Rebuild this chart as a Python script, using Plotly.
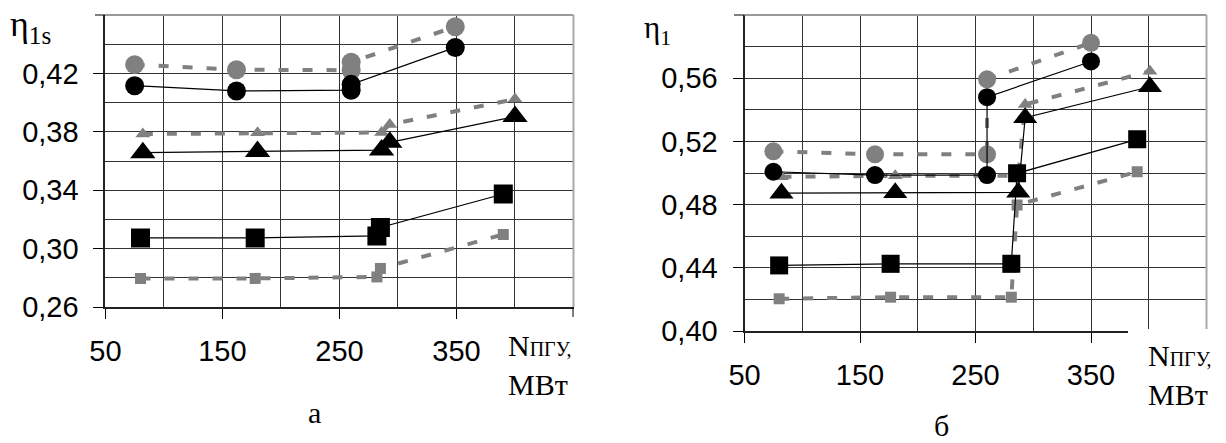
import plotly.graph_objects as go

# ---------------- data: chart "а" (eta_1s) ----------------
a_x_circ = [75, 162, 260, 260, 349]
a_gray_circ = [0.426, 0.4225, 0.4222, 0.4277, 0.452]
a_black_circ = [0.4116, 0.408, 0.4085, 0.4125, 0.4378]
a_x_tri = [82, 180, 286, 293, 400]
a_gray_tri = [0.3785, 0.3793, 0.3795, 0.385, 0.4024]
a_black_tri = [0.3657, 0.3665, 0.3675, 0.3728, 0.3904]
a_x_sq = [80, 178, 282, 285, 390]
a_black_sq = [0.3073, 0.3073, 0.3087, 0.3145, 0.3374]
a_gray_sq = [0.2796, 0.2796, 0.2806, 0.2864, 0.3097]

# ---------------- data: chart "б" (eta_1) ----------------
b_x_circ = [75, 163, 260, 260, 350]
b_gray_circ = [0.5137, 0.5118, 0.5118, 0.5593, 0.5824]
b_black_circ = [0.5008, 0.4987, 0.4987, 0.548, 0.5706]
b_x_tri = [82, 180.5, 287, 293, 401]
b_gray_tri = [0.4976, 0.4982, 0.4982, 0.5434, 0.5644]
b_black_tri = [0.4872, 0.4875, 0.4878, 0.535, 0.5546]
b_x_sq = [80, 176.5, 281, 286, 390]
b_black_sq = [0.4415, 0.4425, 0.4425, 0.4998, 0.5213]
b_gray_sq = [0.4204, 0.4214, 0.4214, 0.4798, 0.5008]

x_tickvals = [50, 150, 250, 350]
x_ticktext = ["50", "150", "250", "350"]
a_y_tickvals = [0.26, 0.30, 0.34, 0.38, 0.42]
a_y_ticktext = ["0,26", "0,30", "0,34", "0,38", "0,42"]
b_y_tickvals = [0.40, 0.44, 0.48, 0.52, 0.56]
b_y_ticktext = ["0,40", "0,44", "0,48", "0,52", "0,56"]

GRAY = "#808080"
BLACK = "#000000"
W, H = 1226, 443

fig = go.Figure()


def add(x, y, symbol, size, color, dash, width, xa, ya):
    fig.add_trace(go.Scatter(
        x=x, y=y, mode="lines+markers", xaxis=xa, yaxis=ya,
        marker=dict(symbol=symbol, size=size, color=color, line=dict(width=0)),
        line=dict(color=color, width=width, dash=dash),
        showlegend=False, hoverinfo="skip"))


GDASH = "10px,14px"
for xa, ya, d, big in [("x", "y", "a", 19), ("x2", "y2", "b", 18)]:
    g = globals()
    add(g[d + "_x_circ"], g[d + "_gray_circ"], "circle", big, GRAY, GDASH, 4, xa, ya)
    add(g[d + "_x_tri"], g[d + "_gray_tri"], "triangle-up", 13, GRAY, GDASH, 4, xa, ya)
    add(g[d + "_x_sq"], g[d + "_gray_sq"], "square", 11, GRAY, GDASH, 4, xa, ya)
    add(g[d + "_x_circ"], g[d + "_black_circ"], "circle", big, BLACK, "solid", 1.2, xa, ya)
    add(g[d + "_x_tri"], g[d + "_black_tri"], "triangle-up", big + 3, BLACK, "solid", 1.2, xa, ya)
    add(g[d + "_x_sq"], g[d + "_black_sq"], "square", big, BLACK, "solid", 1.2, xa, ya)

tickfont = dict(family="Liberation Sans, Arial, sans-serif", size=29, color="black")


def xaxis(domain, anchor):
    return dict(domain=domain, anchor=anchor, range=[50, 450], tickmode="array",
                tickvals=x_tickvals, ticktext=x_ticktext, ticks="outside", ticklen=10,
                tickcolor="black", tickwidth=1, showline=True, linecolor="#222",
                linewidth=2, showgrid=True, gridcolor="#333", gridwidth=1,
                minor=dict(tick0=50, dtick=50, showgrid=True, gridcolor="#333",
                           gridwidth=1, ticks=""),
                tickfont=tickfont, zeroline=False, fixedrange=True,
                ticklabelstandoff=7, automargin=False)


def yaxis(domain, anchor, rng, tv, tt):
    return dict(domain=domain, anchor=anchor, range=rng, tickmode="array",
                tickvals=tv, ticktext=tt, ticks="outside", ticklen=10,
                tickcolor="black", tickwidth=1, showline=True, linecolor="#222",
                linewidth=2, showgrid=True, gridcolor="#333", gridwidth=1,
                minor=dict(tick0=rng[0], dtick=0.02, showgrid=True, gridcolor="#333",
                           gridwidth=1, ticks=""),
                tickfont=tickfont, zeroline=False, fixedrange=True,
                ticklabelstandoff=9, automargin=False)


fig.update_layout(
    width=W, height=H, margin=dict(l=0, r=0, t=0, b=0),
    paper_bgcolor="white", plot_bgcolor="white",
    xaxis=xaxis([105.4 / W, 573.5 / W], "y"),
    yaxis=yaxis([1 - 307 / H, 1 - 15 / H], "x", [0.26, 0.46], a_y_tickvals, a_y_ticktext),
    xaxis2=xaxis([744.5 / W, 1206.5 / W], "y2"),
    yaxis2=yaxis([1 - 331 / H, 1 - 15 / H], "x2", [0.40, 0.60], b_y_tickvals, b_y_ticktext),
)

shapes = []
# top & right borders (gray)
for xr, yr in [("x domain", "y domain"), ("x2 domain", "y2 domain")]:
    shapes.append(dict(type="line", xref=xr, yref=yr, x0=0, x1=1, y0=1, y1=1,
                       line=dict(color="#999", width=2), layer="above"))
    shapes.append(dict(type="line", xref=xr, yref=yr, x0=1, x1=1, y0=0, y1=1,
                       line=dict(color="#aaa", width=2), layer="above"))
# extra unlabeled tick marks (top of y axes, right end of x axis in chart а)
tk = dict(color="black", width=1)
shapes.append(dict(type="line", xref="paper", yref="paper", x0=95 / W, x1=105.4 / W,
                   y0=1 - 15 / H, y1=1 - 15 / H, line=tk))
shapes.append(dict(type="line", xref="paper", yref="paper", x0=734 / W, x1=744.5 / W,
                   y0=1 - 15 / H, y1=1 - 15 / H, line=tk))
shapes.append(dict(type="line", xref="paper", yref="paper", x0=573 / W, x1=573 / W,
                   y0=1 - 307 / H, y1=1 - 317 / H, line=tk))
# white box covering lower-right corner of chart б (behind axis title)
shapes.append(dict(type="rect", xref="paper", yref="paper", x0=1128 / W, x1=1,
                   y0=1 - 346 / H, y1=1 - 329 / H, fillcolor="white",
                   line=dict(width=0), layer="above"))
fig.update_layout(shapes=shapes)

serif = "Liberation Serif, Times New Roman, serif"
ann = []
ann.append(dict(text="η<sub>1s</sub>", x=8 / W, y=1 - 2 / H, xref="paper", yref="paper",
                xanchor="left", yanchor="top", showarrow=False,
                font=dict(family=serif, size=36, color="black")))
ann.append(dict(text="η<sub>1</sub>", x=642 / W, y=1 - 8 / H, xref="paper", yref="paper",
                xanchor="left", yanchor="top", showarrow=False,
                font=dict(family=serif, size=31, color="black")))
xtitle = "N<span style='font-size:20px'>ПГУ,</span><br>МВт"
ann.append(dict(text=xtitle, x=506 / W, y=1 - 327 / H, xref="paper", yref="paper",
                xanchor="left", yanchor="top", showarrow=False, align="left",
                font=dict(family=serif, size=30, color="black")))
ann.append(dict(text=xtitle, x=1146 / W, y=1 - 337 / H, xref="paper", yref="paper",
                xanchor="left", yanchor="top", showarrow=False, align="left",
                font=dict(family=serif, size=30, color="black")))
ann.append(dict(text="а", x=314 / W, y=1 - 412 / H, xref="paper", yref="paper",
                xanchor="center", yanchor="middle", showarrow=False,
                font=dict(family=serif, size=30, color="black")))
ann.append(dict(text="б", x=941 / W, y=0, xref="paper", yref="paper",
                xanchor="center", yanchor="bottom", showarrow=False, borderpad=0,
                font=dict(family=serif, size=30, color="black")))
fig.update_layout(annotations=ann)

fig.write_html("out.html")
